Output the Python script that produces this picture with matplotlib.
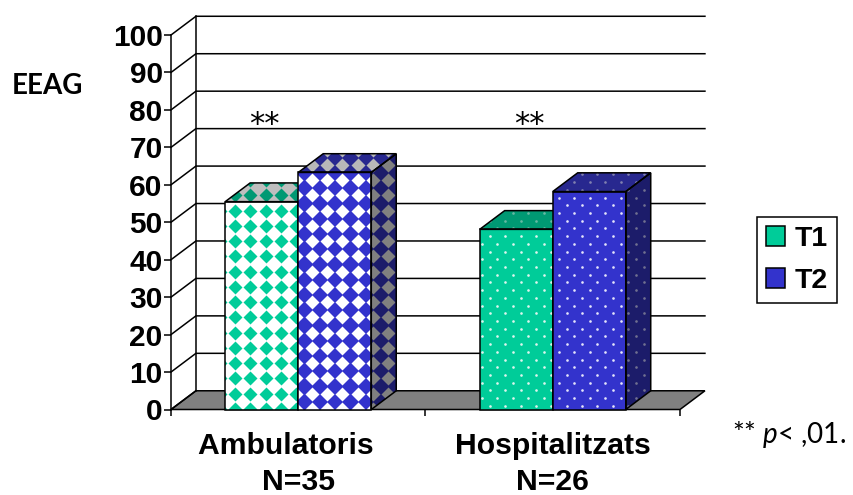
import numpy as np
import matplotlib
matplotlib.use("Agg")
import matplotlib.pyplot as plt
from matplotlib.patches import Polygon, Rectangle

categories = ["Ambulatoris   \nN=35", "Hospitalitzats\nN=26"]
t1_values = [55.5, 48.1]
t2_values = [63.3, 58.2]
y_ticks = list(range(0, 101, 10))

GREEN = "#00CC99"
BLUE = "#3333CC"
DEPTH_X = 0.098
DEPTH_Y = 5.0
BAR_W = 0.287
ARIAL = "Liberation Sans"
CALIBRI = "Lato"

plt.rcParams["mathtext.fontset"] = "custom"
plt.rcParams["mathtext.it"] = "Lato:italic"
plt.rcParams["mathtext.rm"] = "Lato"

fig = plt.figure(figsize=(8.54, 4.95), dpi=100)
ax = fig.add_axes([171 / 854, (495 - 409.5) / 495, 509 / 854, 374.5 / 495])
ax.set_xlim(0, 2)
ax.set_ylim(0, 100)
ax.patch.set_visible(False)
for name in ["top", "right", "bottom"]:
    ax.spines[name].set_visible(False)
ax.spines["left"].set_linewidth(1.1)

# floor and walls
ax.add_patch(Polygon([(0, 0), (2, 0), (2 + DEPTH_X, DEPTH_Y), (DEPTH_X, DEPTH_Y)],
                     facecolor="#808080", edgecolor="black", lw=1.1, clip_on=False, zorder=1))
for v in y_ticks[1:]:
    ax.plot([0, DEPTH_X, 2 + DEPTH_X], [v, v + DEPTH_Y, v + DEPTH_Y], color="black", lw=1.1,
            clip_on=False, zorder=1, solid_joinstyle="miter")
ax.plot([DEPTH_X, DEPTH_X], [DEPTH_Y, 100 + DEPTH_Y], color="black", lw=1.1, clip_on=False, zorder=1)
ax.plot([0, DEPTH_X], [0, DEPTH_Y], color="black", lw=1.1, clip_on=False, zorder=1)


def face(poly, base, mark, kind, z):
    patch = Polygon(poly, closed=True, facecolor=base, edgecolor="none", clip_on=False, zorder=z)
    ax.add_patch(patch)
    if kind == "diamond":
        xs = 0.2515 + 0.0602 * np.arange(-5, 20)
        ys = 53.08 + 4.07 * np.arange(-14, 15)
        gx, gy = np.meshgrid(xs, ys)
        ms, m = 6.8, "D"
    else:
        rows = 56.6 + 2.06 * np.arange(-28, 28)
        gx, gy = [], []
        for i, r in enumerate(rows):
            shift = 0.0 if i % 2 == 0 else 0.0302
            cols = 1.5246 + shift + 0.0605 * np.arange(-12, 12)
            gx.extend(cols)
            gy.extend([r] * len(cols))
        ms, m = 1.9, "o"
    pts, = ax.plot(np.ravel(gx), np.ravel(gy), ls="none", marker=m, ms=ms, mfc=mark, mec="none",
                   zorder=z + 0.1)
    pts.set_clip_path(patch)
    ax.add_patch(Polygon(poly, closed=True, facecolor="none", edgecolor="black", lw=1.1,
                         clip_on=False, zorder=z + 0.2))


def bar3d(x, h, kind, front, mark, top, top_mark, side, side_mark, z):
    w = BAR_W
    face([(x, h), (x + w, h), (x + w + DEPTH_X, h + DEPTH_Y), (x + DEPTH_X, h + DEPTH_Y)],
         top, top_mark, kind, z)
    face([(x + w, 0), (x + w + DEPTH_X, DEPTH_Y), (x + w + DEPTH_X, h + DEPTH_Y), (x + w, h)],
         side, side_mark, kind, z)
    face([(x, 0), (x + w, 0), (x + w, h), (x, h)], front, mark, kind, z)


# first group has diamond fill on white, second a dotted fill
bar3d(0.5 - BAR_W, t1_values[0], "diamond", "white", GREEN, "#BEBEBE", "#009973", "#808080", "#006650", 3)
bar3d(0.5, t2_values[0], "diamond", BLUE, "white", "#28288F", "#B8B8B8", "#1C1C6A", "#808080", 4)
bar3d(1.5 - BAR_W, t1_values[1], "dots", GREEN, "#DDF5EE", "#009973", "#66B8A3", "#006650", "#66A090", 3)
bar3d(1.5, t2_values[1], "dots", BLUE, "#E4E4FA", "#28288F", "#8080B0", "#1C1C6A", "#707090", 4)

ax.set_yticks(y_ticks)
ax.set_yticklabels([str(v) for v in y_ticks], fontfamily=ARIAL, fontweight="bold", fontsize=21.5)
ax.tick_params(axis="y", length=5, width=1.1, pad=1)
ax.set_xticks([0, 1, 2])
ax.set_xticklabels([])
ax.tick_params(axis="x", length=4.5, width=1.1)
ax.set_xticks([0.5, 1.5], minor=True)
ax.set_xticklabels(categories, minor=True, fontfamily=ARIAL, fontweight="bold", fontsize=21.7,
                   linespacing=1.36)
ax.tick_params(axis="x", which="minor", length=0, pad=16)

# significance marks
for xc in [0.5 - 0.135, 1.5 - 0.09]:
    ax.text(xc, 76, "**", ha="center", va="center", fontsize=22, fontfamily="DejaVu Sans", zorder=6)

fig.text(12 / 854, 1 - 86 / 495, "EEAG", fontfamily=CALIBRI, fontweight="bold", fontsize=20,
         ha="left", va="center")
fig.text(732 / 854, 1 - 434 / 495, "** $\\mathit{p}$< ,01.", fontfamily=CALIBRI, fontsize=20,
         ha="left", va="center")

handles = [Rectangle((0, 0), 1, 1, facecolor=GREEN, edgecolor="black", lw=1.1),
           Rectangle((0, 0), 1, 1, facecolor=BLUE, edgecolor="black", lw=1.1)]
leg = fig.legend(handles, ["T1", "T2"], loc="center", bbox_to_anchor=(797 / 854, 1 - 260 / 495),
                 prop={"family": ARIAL, "weight": "bold", "size": 20.5}, fancybox=False,
                 edgecolor="black", framealpha=1, handlelength=0.66, handleheight=0.66,
                 handletextpad=0.35, labelspacing=0.56, borderpad=0.32, borderaxespad=0)
leg.get_frame().set_linewidth(1.1)

fig.savefig("out.png", dpi=100)
